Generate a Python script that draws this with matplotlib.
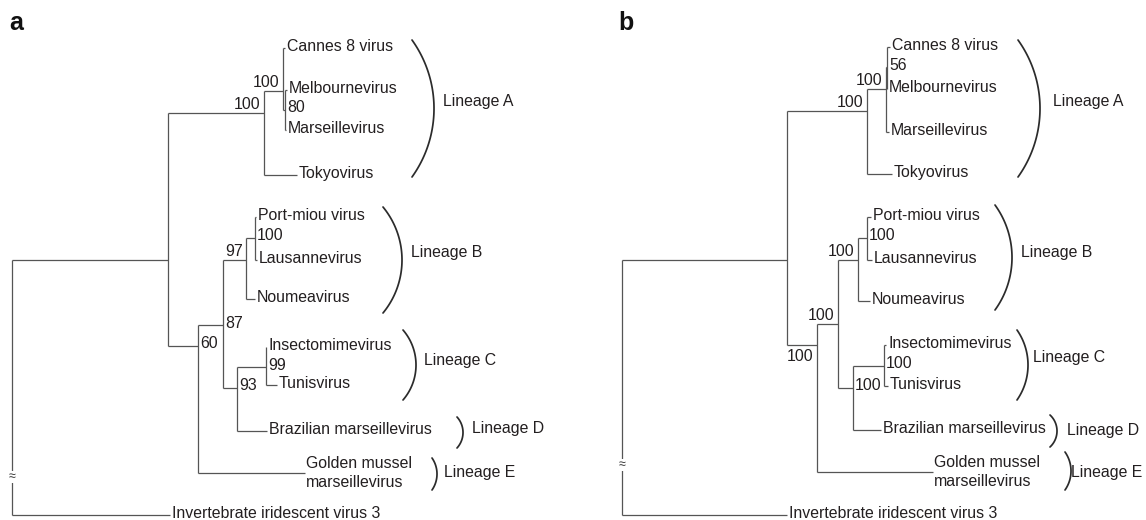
import numpy as np
import matplotlib
matplotlib.use("Agg")
import matplotlib.pyplot as plt

plt.rcParams['font.family'] = ['Liberation Sans', 'DejaVu Sans']

# ---------------- data ----------------
LEAF_NAMES = ["Cannes 8 virus", "Melbournevirus", "Marseillevirus", "Tokyovirus",
              "Port-miou virus", "Lausannevirus", "Noumeavirus", "Insectomimevirus",
              "Tunisvirus", "Brazilian marseillevirus", "Golden mussel\nmarseillevirus",
              "Invertebrate iridescent virus 3"]

# panel a : tip depth and row of every leaf
A_LEAF_DEPTH = [273, 275, 274, 285, 244, 245, 243, 254, 265, 255, 293, 158]
A_LEAF_Y = [48, 90, 130, 175, 217, 260, 299, 347, 385, 431, 473, 515]

A_NODE_IDS = ["root", "ingroup", "A", "A1", "A2", "BCDE", "BCD", "B", "B1", "CD", "C"]
A_NODE_DEPTH = [0, 156, 252, 271, 273, 186, 211, 234, 243, 225, 254]
A_NODE_Y = [388, 260, 113, 91, 110, 346, 325, 260, 238, 388, 367]
A_NODE_CHILDREN = [["ingroup", "Invertebrate iridescent virus 3"],
                   ["A", "BCDE"],
                   ["A1", "Tokyovirus"],
                   ["Cannes 8 virus", "A2"],
                   ["Melbournevirus", "Marseillevirus"],
                   ["BCD", "Golden mussel\nmarseillevirus"],
                   ["B", "CD"],
                   ["B1", "Noumeavirus"],
                   ["Port-miou virus", "Lausannevirus"],
                   ["C", "Brazilian marseillevirus"],
                   ["Insectomimevirus", "Tunisvirus"]]
A_SUPPORT = ["", "", "100", "100", "80", "60", "87", "97", "100", "93", "99"]
A_SUPPORT_SIDE = ["", "", "la", "la", "r", "r", "r", "la", "r", "r", "r"]

# panel b
B_LEAF_DEPTH = [268, 265, 267, 270, 249, 250, 248, 264, 266, 259, 311, 165]
B_LEAF_Y = [47, 89, 132, 174, 217, 260, 301, 345, 386, 430, 472, 515]

B_NODE_IDS = ["root", "ingroup", "A", "A1", "A2", "BCDE", "BCD", "B", "B1", "CD", "C"]
B_NODE_DEPTH = [0, 165, 245, 264, 265, 195, 216, 236, 245, 231, 262]
B_NODE_Y = [388, 260, 111, 89, 67, 345, 324, 260, 238, 388, 366]
B_NODE_CHILDREN = [["ingroup", "Invertebrate iridescent virus 3"],
                   ["A", "BCDE"],
                   ["A1", "Tokyovirus"],
                   ["A2", "Marseillevirus"],
                   ["Cannes 8 virus", "Melbournevirus"],
                   ["BCD", "Golden mussel\nmarseillevirus"],
                   ["B", "CD"],
                   ["B1", "Noumeavirus"],
                   ["Port-miou virus", "Lausannevirus"],
                   ["C", "Brazilian marseillevirus"],
                   ["Insectomimevirus", "Tunisvirus"]]
B_SUPPORT = ["", "", "100", "100", "56", "100", "100", "100", "100", "100", "100"]
B_SUPPORT_SIDE = ["", "", "la", "la", "r", "lb", "la", "la", "r", "r", "r"]

LINEAGES = ["Lineage A", "Lineage B", "Lineage C", "Lineage D", "Lineage E"]

# ---------------- layout / style ----------------
A_BRACKET_X = [400, 371, 391, 445, 420]
A_BRACKET_BULGE = [22, 19, 13, 6, 5]
A_BRACKET_Y = [(40, 177), (207, 313), (330, 400), (417, 448), (458, 490)]
A_LINEAGE_X = [431, 399, 412, 460, 432]
A_LINEAGE_BASE = [106, 257, 365, 433, 477]

B_BRACKET_X = [396, 373, 395, 428, 443]
B_BRACKET_BULGE = [22, 17, 11, 7, 6]
B_BRACKET_Y = [(40, 177), (205, 310), (330, 400), (415, 447), (452, 490)]
B_LINEAGE_X = [431, 399, 411, 445, 449]
B_LINEAGE_BASE = [106, 257, 362, 435, 477]

TREE_COLOR = "#555555"
TEXT_COLOR = "#231f20"
BRACKET_COLOR = "#2b2b2b"
FS = 11.4


def draw_panel(ax, leaf_depth, leaf_y, node_ids, node_depth, node_y, children,
               support, side, br_x, br_bulge, br_y, lin_x, lin_base, brk_y, letter):
    pos = {}
    for n, d, y in zip(LEAF_NAMES, leaf_depth, leaf_y):
        pos[n] = (d, y)
    for n, d, y in zip(node_ids, node_depth, node_y):
        pos[n] = (d, y)
    lw = 0.9
    for n, d, y, ch in zip(node_ids, node_depth, node_y, children):
        cys = [pos[c][1] for c in ch]
        ax.plot([d, d], [min(cys), max(cys)], color=TREE_COLOR, lw=lw,
                solid_capstyle='butt')
        for c in ch:
            cx, cy = pos[c]
            ax.plot([d, cx], [cy, cy], color=TREE_COLOR, lw=lw,
                    solid_capstyle='butt')
    # leaf labels
    for n, d, y in zip(LEAF_NAMES, leaf_depth, leaf_y):
        if "\n" in n:
            l1, l2 = n.split("\n")
            ax.text(d + 1, y - 5, l1, ha='left', va='baseline', fontsize=FS, color=TEXT_COLOR)
            ax.text(d + 1, y + 14, l2, ha='left', va='baseline', fontsize=FS, color=TEXT_COLOR)
        else:
            ax.text(d + 2, y + 3, n, ha='left', va='baseline', fontsize=FS, color=TEXT_COLOR)
    # support values
    for d, y, s, sd in zip(node_depth, node_y, support, side):
        if not s:
            continue
        if sd == 'la':
            ax.text(d - 3.5, y - 4, s, ha='right', va='baseline', fontsize=FS, color=TEXT_COLOR)
        elif sd == 'lb':
            ax.text(d - 3.5, y + 16, s, ha='right', va='baseline', fontsize=FS, color=TEXT_COLOR)
        else:
            ax.text(d + 2, y + 2.5, s, ha='left', va='baseline', fontsize=FS, color=TEXT_COLOR)
    # lineage brackets
    for name, x0, b, (y0, y1), lx, lb in zip(LINEAGES, br_x, br_bulge, br_y, lin_x, lin_base):
        h = (y1 - y0) / 2.0
        mid = (y0 + y1) / 2.0
        R = (h ** 2 + b ** 2) / (2.0 * b)
        cx = x0 + b - R
        ys = np.linspace(y0, y1, 100)
        xs = cx + np.sqrt(np.maximum(R ** 2 - (ys - mid) ** 2, 0))
        ax.plot(xs, ys, color=BRACKET_COLOR, lw=1.25, solid_capstyle='round')
        ax.text(lx, lb, name, ha='left', va='baseline', fontsize=FS, color=TEXT_COLOR)
    # break mark on root branch
    ax.text(node_depth[0], brk_y, "\u2248", ha='center', va='center', fontsize=9,
            color='#333333', bbox=dict(facecolor='white', edgecolor='none', pad=0.1))
    ax.text(letter[1], 30, letter[0], ha='left', va='baseline', fontsize=18,
            fontweight='bold', color='#111111')


fig = plt.figure(figsize=(11.46, 5.2), dpi=100)
ax_a = fig.add_axes([0, 0, 0.5, 1])
ax_b = fig.add_axes([0.5, 0, 0.5, 1])
ax_a.set_xlim(-12, 561)
ax_b.set_xlim(-49, 524)
for ax in (ax_a, ax_b):
    ax.set_ylim(520, 0)
    ax.axis('off')

draw_panel(ax_a, A_LEAF_DEPTH, A_LEAF_Y, A_NODE_IDS, A_NODE_DEPTH, A_NODE_Y,
           A_NODE_CHILDREN, A_SUPPORT, A_SUPPORT_SIDE, A_BRACKET_X, A_BRACKET_BULGE,
           A_BRACKET_Y, A_LINEAGE_X, A_LINEAGE_BASE, 477, ("a", -3))
draw_panel(ax_b, B_LEAF_DEPTH, B_LEAF_Y, B_NODE_IDS, B_NODE_DEPTH, B_NODE_Y,
           B_NODE_CHILDREN, B_SUPPORT, B_SUPPORT_SIDE, B_BRACKET_X, B_BRACKET_BULGE,
           B_BRACKET_Y, B_LINEAGE_X, B_LINEAGE_BASE, 465, ("b", -4))

fig.savefig("out.png", dpi=100)
